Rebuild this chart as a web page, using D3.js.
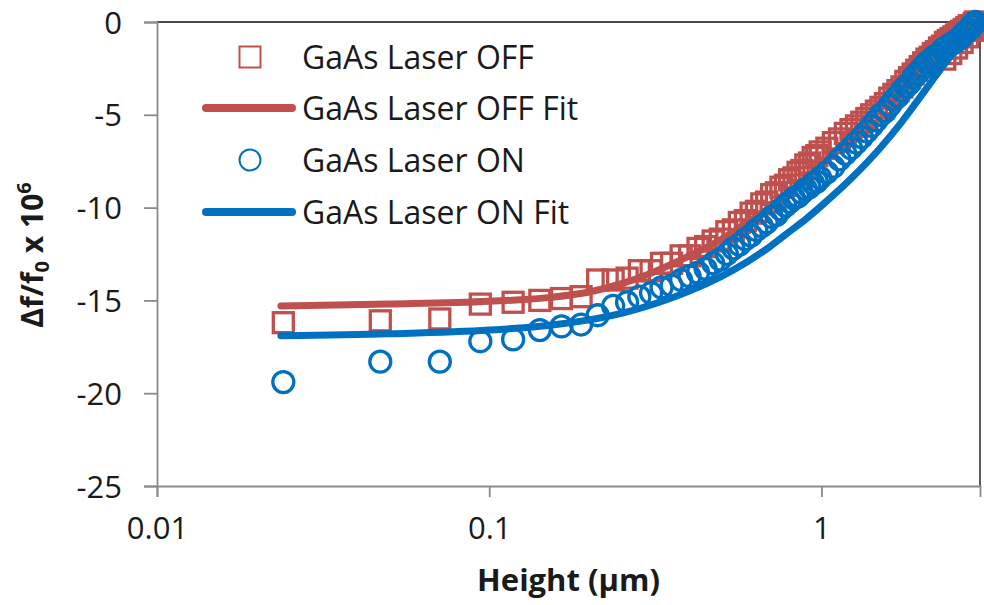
<!DOCTYPE html>
<html><head><meta charset="utf-8">
<script src="https://cdn.jsdelivr.net/npm/d3@7"></script>
<style>
body{margin:0;background:#fff}
svg{display:block}
text{font-family:"Open Sans",sans-serif;fill:#1a1a1a}
</style>
</head><body>
<svg id="c" width="984" height="605"></svg>
<script>
// Heights (µm) of the measured points
const heights = [0.024,0.047,0.071,0.094,0.118,0.142,0.165,0.189,0.212,0.236,
0.260,0.283,0.307,0.330,0.354,0.378,0.401,0.425,0.448,0.472,
0.496,0.519,0.543,0.566,0.590,0.614,0.637,0.661,0.684,0.708,
0.732,0.755,0.779,0.802,0.826,0.850,0.873,0.897,0.920,0.944,
0.968,0.991,
1.038,1.086,1.133,1.180,1.227,1.274,1.322,1.369,1.416,1.463,
1.510,1.558,1.605,1.652,1.699,1.746,1.794,1.841,1.888,1.935,
1.982,2.030,2.077,2.124,2.171,2.218,2.266,2.313,2.360,2.407,
2.454,2.502,2.549,2.596,2.643,2.690,2.738,2.785,2.832,2.879,
2.903];
// GaAs Laser OFF (squares)
const offValues = [-16.2,-16.1,-16.0,-15.2,-15.1,-15.0,-14.9,-14.8,-13.9,-13.9,
-13.8,-13.4,-13.4,-13.0,-13.0,-12.6,-12.6,-12.2,-12.1,-11.8,
-11.7,-11.3,-11.2,-10.8,-10.7,-10.3,-10.2,-9.8,-9.7,-9.3,
-9.2,-8.9,-8.8,-8.5,-8.4,-8.1,-8.0,-7.7,-7.6,-7.3,
-7.2,-7.0,
-6.8,-6.5,-6.3,-6.0,-5.8,-5.6,-5.4,-5.2,-5.0,-4.8,
-4.6,-4.4,-4.1,-3.9,-3.7,-3.5,-3.2,-3.0,-2.8,-2.6,
-2.4,-2.2,-2.0,-1.9,-1.7,-1.6,-1.4,-1.3,-1.1,-1.0,
-0.9,-0.8,-0.7,-0.6,-0.5,-0.4,-0.3,-0.2,-0.2,-0.1,
0.0];
// GaAs Laser OFF, extra points on the lower edge near the top
const offExtraHeights = [2.35, 2.45, 2.55, 2.65, 2.75, 2.85];
const offExtraValues = [-2.0, -1.7, -1.4, -1.1, -0.8, -0.45];
// GaAs Laser ON (circles)
const onValues = [-19.4,-18.3,-18.3,-17.2,-17.1,-16.6,-16.4,-16.3,-15.8,-15.3,
-15.1,-14.8,-14.6,-14.3,-14.2,-13.9,-13.7,-13.5,-13.3,-13.0,
-12.8,-12.5,-12.2,-12.0,-11.7,-11.5,-11.2,-11.0,-10.8,-10.5,
-10.4,-10.1,-9.9,-9.7,-9.5,-9.4,-9.2,-9.0,-8.9,-8.7,
-8.6,-8.4,
-8.1,-7.8,-7.4,-7.1,-6.8,-6.5,-6.2,-5.9,-5.6,-5.3,
-5.0,-4.8,-4.5,-4.2,-4.0,-3.7,-3.5,-3.3,-3.0,-2.8,
-2.6,-2.4,-2.2,-2.1,-1.9,-1.8,-1.7,-1.5,-1.4,-1.3,
-1.2,-1.1,-1.0,-0.9,-0.8,-0.6,-0.5,-0.4,-0.2,-0.1,
0.0];
// Fit curves
const fitHeights = [0.0236,0.05,0.1,0.15,0.2,0.25,0.3,0.4,0.5,0.6,0.7,0.8,0.9,1.0,1.25,1.5,1.75,2.0,2.25,2.5,2.75,2.95];
const offFit = [-15.3,-15.2,-15.05,-14.85,-14.55,-14.1,-13.6,-12.6,-11.7,-10.8,-10.0,-9.2,-8.4,-7.7,-6.0,-4.6,-3.4,-2.4,-1.6,-1.0,-0.4,0.0];
const onFit = [-16.9,-16.8,-16.6,-16.35,-16.05,-15.7,-15.3,-14.5,-13.7,-12.9,-12.1,-11.3,-10.6,-9.9,-8.3,-6.8,-5.35,-3.95,-2.7,-1.65,-0.8,0.0];

const xTicks = [0.01, 0.1, 1];
const xTickLabels = ["0.01", "0.1", "1"];
const yTicks = [0, -5, -10, -15, -20, -25];
const yTickLabels = ["0", "-5", "-10", "-15", "-20", "-25"];
const legendNames = ["GaAs Laser OFF", "GaAs Laser OFF Fit", "GaAs Laser ON", "GaAs Laser ON Fit"];
const red = "#C0504D", blue = "#0070C0";

const svg = d3.select("#c");
svg.append("rect").attr("width",984).attr("height",605).attr("fill","#fff");

const L = 157, R = 980, T = 22, B = 486;
const x = d3.scaleLog().domain([0.01, 3]).range([L, R]);
const y = d3.scaleLinear().domain([-25, 0]).range([B, T]);

// frame top/right
svg.append("path").attr("d", `M${L},${T}H${R}V${B}`).attr("fill","none")
  .attr("stroke","#4a4a4a").attr("stroke-width",1.8);

// axes
const yAxis = d3.axisLeft(y).tickValues(yTicks).tickSize(13).tickPadding(22)
  .tickFormat((d,i)=>yTickLabels[i]);
const gy = svg.append("g").attr("transform",`translate(${L},0)`).call(yAxis);
const xAxis = d3.axisBottom(x).tickValues(xTicks).tickSize(11).tickPadding(20)
  .tickFormat((d,i)=>xTickLabels[i]);
const gx = svg.append("g").attr("transform",`translate(0,${B})`).call(xAxis);
[gx, gy].forEach(g=>{
  g.select(".domain").attr("stroke","#8a8a8a").attr("stroke-width",1.8);
  g.selectAll(".tick line").attr("stroke","#8a8a8a").attr("stroke-width",1.8);
  g.selectAll(".tick text").attr("font-family","Open Sans").attr("font-size",31).attr("fill","#1a1a1a");
});
gy.selectAll(".tick text").attr("dy","0.36em");
gx.selectAll(".tick text").attr("dy","0.71em");

// series data
const offData = heights.map((h,i)=>({h, v: offValues[i]}))
  .concat(offExtraHeights.map((h,i)=>({h, v: offExtraValues[i]})));
const onData = heights.map((h,i)=>({h, v: onValues[i]}));
const offFitData = fitHeights.map((h,i)=>({h, v: offFit[i]}));
const onFitData = fitHeights.map((h,i)=>({h, v: onFit[i]}));

const line = d3.line().x(d=>x(d.h)).y(d=>y(d.v)).curve(d3.curveMonotoneX);
const S = 20;

// OFF squares
svg.append("g").selectAll("rect").data(offData).join("rect")
  .attr("x", d=>x(d.h)-S/2).attr("y", d=>y(d.v)-S/2).attr("width",S).attr("height",S)
  .attr("fill","none").attr("stroke",red).attr("stroke-width",3.3);
// OFF fit
svg.append("path").datum(offFitData).attr("d",line).attr("fill","none")
  .attr("stroke",red).attr("stroke-width",7).attr("stroke-linecap","round");
// ON circles
svg.append("g").selectAll("circle").data(onData).join("circle")
  .attr("cx", d=>x(d.h)).attr("cy", d=>y(d.v)).attr("r",10.5)
  .attr("fill","none").attr("stroke",blue).attr("stroke-width",3.3);
// ON fit
svg.append("path").datum(onFitData).attr("d",line).attr("fill","none")
  .attr("stroke",blue).attr("stroke-width",7).attr("stroke-linecap","round");

// legend
const lg = svg.append("g");
const rowY = [57, 108, 160, 212];
const textX = 302, symX = 250;
legendNames.forEach((name,i)=>{
  const cy = rowY[i];
  if (i===0) lg.append("rect").attr("x",symX-10.5).attr("y",cy-10.5).attr("width",21).attr("height",21)
    .attr("fill","none").attr("stroke",red).attr("stroke-width",2);
  if (i===1) lg.append("line").attr("x1",206).attr("x2",292).attr("y1",cy).attr("y2",cy)
    .attr("stroke",red).attr("stroke-width",8).attr("stroke-linecap","round");
  if (i===2) lg.append("circle").attr("cx",symX).attr("cy",cy).attr("r",10.5)
    .attr("fill","none").attr("stroke",blue).attr("stroke-width",2);
  if (i===3) lg.append("line").attr("x1",206).attr("x2",292).attr("y1",cy).attr("y2",cy)
    .attr("stroke",blue).attr("stroke-width",8).attr("stroke-linecap","round");
  lg.append("text").attr("x",textX).attr("y",cy+11.5).attr("font-size",32).text(name);
});

// axis titles
svg.append("text").attr("x",(L+R)/2).attr("y",591).attr("text-anchor","middle")
  .attr("font-size",31).attr("font-weight","bold").text("Height (µm)");

const yt = svg.append("text").attr("transform","translate(43,255) rotate(-90)")
  .attr("text-anchor","middle").attr("font-size",30).attr("font-weight","bold");
yt.append("tspan").text("Δf/f");
yt.append("tspan").attr("font-size",20).attr("dy",6).text("0");
yt.append("tspan").attr("dy",-6).text(" x 10");
yt.append("tspan").attr("font-size",20).attr("dy",-12).text("6");
</script>
</body></html>
